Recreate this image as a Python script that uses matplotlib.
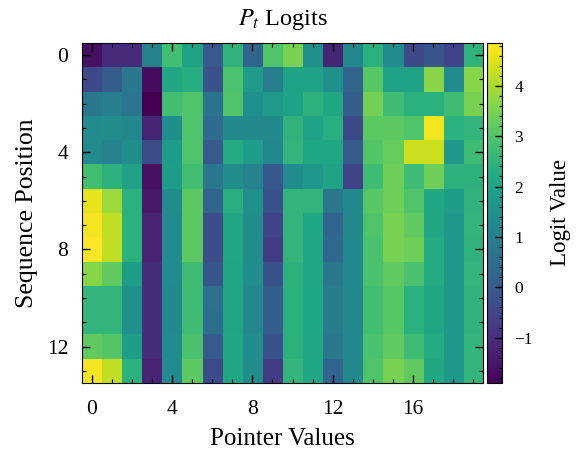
import numpy as np
import matplotlib
matplotlib.use("Agg")
import matplotlib.pyplot as plt
from matplotlib.ticker import MultipleLocator

plt.rcParams['font.family'] = ['Liberation Serif', 'DejaVu Serif']
plt.rcParams['mathtext.fontset'] = 'stix'

# P_t logits, rows = sequence position, columns = pointer value
logits = [
    [-1.6, -1.1, -1.1, 1.1, 2.8, 2.0, 0.0, 2.5, 0.3, 3.0, 3.5, 1.5, -1.2, 1.25, 2.4, 1.35, -0.4, -0.1, -0.55, 2.5],
    [-0.4, 0.1, 0.8, -1.7, 2.15, 2.3, -0.2, 2.95, 1.8, 1.0, 2.0, 2.0, 1.5, 0.3, 3.1, 2.0, 2.0, 3.65, 1.35, 3.65],
    [0.8, 1.0, 0.75, -1.9, 2.8, 3.0, 0.7, 3.0, 1.5, 1.75, 2.0, 2.45, 2.15, 0.15, 3.45, 2.75, 2.4, 2.4, 2.75, 3.5],
    [1.35, 1.4, 1.25, -1.2, 1.45, 3.0, 0.45, 1.3, 1.3, 1.3, 2.5, 2.0, 2.35, -0.4, 3.15, 3.15, 3.0, 4.7, 2.4, 2.55],
    [1.35, 1.1, 1.45, -0.35, 1.8, 3.0, 0.0, 2.25, 1.85, 1.25, 2.55, 2.15, 2.15, 0.0, 3.05, 3.25, 4.3, 4.3, 1.7, 2.75],
    [2.8, 2.45, 2.0, -1.6, 1.85, 2.8, 0.75, 1.4, 1.1, -0.05, 1.35, 1.7, 2.0, -0.55, 2.75, 3.35, 2.75, 3.35, 2.45, 2.45],
    [4.6, 3.85, 2.4, -1.45, 1.4, 3.15, 0.3, 2.35, 1.5, -0.2, 2.55, 2.55, 0.8, 1.25, 3.1, 3.35, 3.0, 2.15, 1.85, 2.5],
    [4.75, 4.2, 2.4, -1.25, 1.35, 3.15, -0.3, 2.15, 1.45, -0.55, 2.55, 2.15, 0.3, 1.25, 3.0, 3.5, 3.2, 2.15, 1.7, 2.55],
    [4.85, 4.2, 2.4, -1.25, 1.35, 3.15, -0.3, 2.15, 1.45, -0.7, 2.55, 2.15, 0.4, 1.25, 2.9, 3.5, 3.35, 2.25, 1.7, 2.5],
    [3.65, 3.2, 1.85, -1.05, 1.35, 2.75, -0.1, 2.1, 1.4, -0.2, 2.45, 2.15, 0.8, 1.25, 2.9, 3.2, 2.9, 2.25, 1.7, 2.55],
    [2.55, 2.55, 1.5, -1.05, 1.3, 2.75, 0.6, 2.1, 1.3, 0.15, 2.4, 2.15, 0.95, 1.25, 2.8, 3.1, 2.4, 2.15, 1.7, 2.5],
    [2.55, 2.55, 1.5, -1.05, 1.3, 2.75, 0.55, 2.1, 1.3, 0.15, 2.4, 2.15, 0.95, 1.25, 2.8, 3.1, 2.4, 2.15, 1.7, 2.5],
    [3.2, 3.05, 1.85, -1.05, 1.35, 2.9, 0.0, 2.15, 1.4, -0.2, 2.45, 2.15, 0.8, 1.25, 2.9, 3.2, 2.75, 2.25, 1.7, 2.55],
    [4.75, 4.2, 2.4, -1.25, 1.35, 3.15, -0.35, 2.15, 1.45, -0.7, 2.55, 2.15, 0.3, 1.25, 3.0, 3.5, 3.2, 2.15, 1.7, 2.55],
]
data = np.array(logits)

fig = plt.figure(figsize=(5.76, 4.5), dpi=100)
ax = fig.add_axes([82/576, 1 - 383/450, 401/576, 340/450])
cax = fig.add_axes([487/576, 1 - 383/450, 15/576, 340/450])

im = ax.imshow(data, cmap='viridis', aspect='auto', interpolation='nearest')

ax.set_title(r'$P_t$ Logits', fontsize=17.5, pad=13)
ax.set_xlabel('Pointer Values', fontsize=18, labelpad=6.5)
ax.set_ylabel('Sequence Position', fontsize=18.5, labelpad=6)
ax.xaxis.set_major_locator(MultipleLocator(4))
ax.xaxis.set_minor_locator(MultipleLocator(1))
ax.yaxis.set_major_locator(MultipleLocator(4))
ax.yaxis.set_minor_locator(MultipleLocator(1))
ax.tick_params(which='both', direction='in', top=True, right=True, labelsize=15.5)
ax.tick_params(which='major', length=6, width=1)
ax.tick_params(axis='x', which='major', pad=12)
ax.tick_params(axis='y', which='major', pad=10)
ax.tick_params(which='minor', length=3, width=0.8)

cb = fig.colorbar(im, cax=cax)
cb.set_label('Logit Value', fontsize=16.5, labelpad=12)
cb.ax.yaxis.set_major_locator(MultipleLocator(1))
cb.ax.yaxis.set_minor_locator(MultipleLocator(0.2))
cb.ax.tick_params(which='both', direction='in', labelsize=12.5)
cb.ax.tick_params(which='major', length=5, width=1, pad=9)
cb.ax.tick_params(which='minor', length=2.5, width=0.8)

fig.savefig('out.png', dpi=100)
